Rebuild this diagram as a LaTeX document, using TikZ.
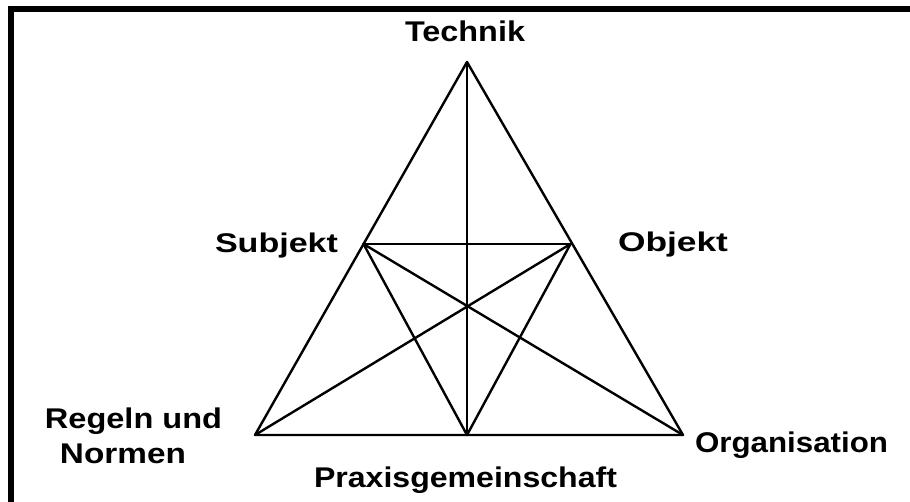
\documentclass[tikz,border=0pt]{standalone}
\usepackage{fontspec}
\setmainfont{Liberation Sans}
\usepackage{graphicx}
\tikzset{
  edge/.style={line width=2.4pt, line cap=round, line join=round},
  lbl/.style={inner sep=0pt, anchor=base, font=\fontsize{28.5}{32}\selectfont\bfseries},
  widelbl/.style={lbl, font=\fontsize{27}{31}\selectfont\bfseries},
  frame/.style={line width=6pt, line join=miter},
}
\newcommand\fitw[2]{\resizebox{#1}{\height}{#2}}
\begin{document}
\begin{tikzpicture}[x=1pt,y=-1pt]
\useasboundingbox (0,0) rectangle (910,502);
\fill[white] (0,0) rectangle (910,502);
\coordinate (fA) at (11,502);
\coordinate (fB) at (11,9);
\coordinate (fC) at (910,9);
\draw[frame] (fA) -- (fB) -- (fC);
% vertices
\coordinate (T) at (467,62);
\coordinate (BL) at (255,435);
\coordinate (BR) at (683,435);
\coordinate (BM) at (467,435);
\coordinate (S) at (363.5,244);
\coordinate (O) at (570.5,244);
% lines
\draw[edge] (T) -- (BL) -- (BR) -- cycle;
\draw[edge] (T) -- (BM);
\draw[edge] (S) -- (O);
\draw[edge] (S) -- (BR);
\draw[edge] (O) -- (BL);
\draw[edge] (S) -- (BM);
\draw[edge] (O) -- (BM);
% labels
\node[lbl] (technik) at (465,42) {\fitw{120pt}{Technik}};
\node[widelbl] (subjekt) at (276.5,253) {\fitw{123pt}{Subjekt}};
\node[widelbl] (objekt) at (673,252) {\fitw{110pt}{Objekt}};
\node[lbl] (regeln) at (133.5,428) {\fitw{177pt}{Regeln und}};
\node[lbl] (normen) at (123,463) {\fitw{126pt}{Normen}};
\node[lbl] (orga) at (791.5,452) {\fitw{193pt}{Organisation}};
\node[lbl] (praxis) at (465.5,487) {\fitw{303pt}{Praxisgemeinschaft}};
\end{tikzpicture}
\end{document}
